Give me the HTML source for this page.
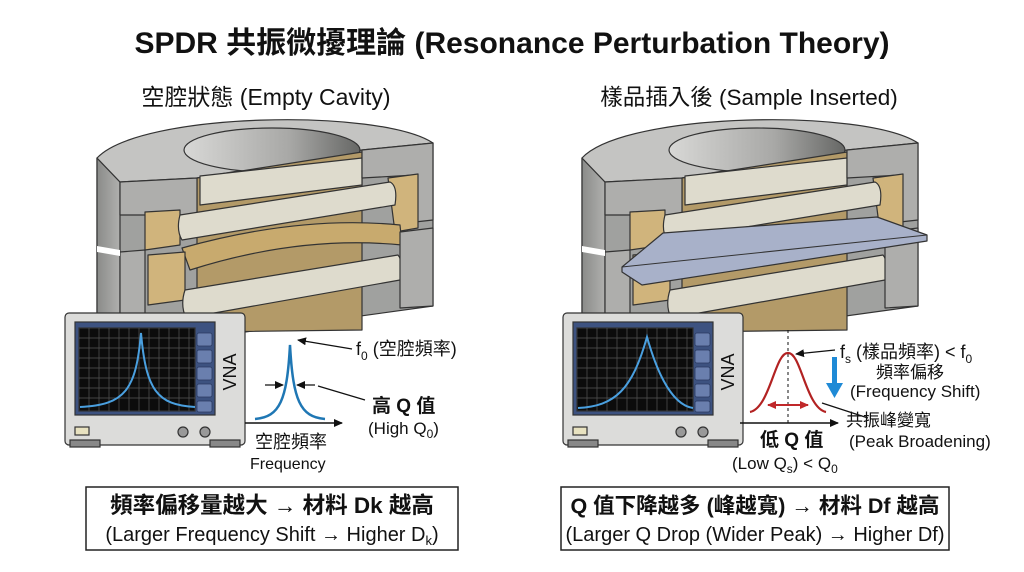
<!DOCTYPE html>
<html><head><meta charset="utf-8"><style>
html,body{margin:0;padding:0;background:#fff;}
svg{display:block;font-family:"Liberation Sans","Noto Sans CJK TC",sans-serif;}
</style></head><body>
<svg width="1024" height="572" viewBox="0 0 1024 572" xmlns="http://www.w3.org/2000/svg">
<defs>
<linearGradient id="hole" x1="0" x2="1"><stop offset="0" stop-color="#d8d8d6"/><stop offset="0.6" stop-color="#a8a8a6"/><stop offset="1" stop-color="#666765"/></linearGradient>
<linearGradient id="side" x1="0" x2="1"><stop offset="0" stop-color="#8a8b89"/><stop offset="1" stop-color="#b0b0ae"/></linearGradient>
<marker id="ah" markerWidth="10" markerHeight="10" refX="8" refY="5" orient="auto" markerUnits="userSpaceOnUse"><path d="M0,1 L9,5 L0,9 Z" fill="#111"/></marker>
<marker id="ahr" markerWidth="10" markerHeight="10" refX="8" refY="5" orient="auto" markerUnits="userSpaceOnUse"><path d="M0,1 L9,5 L0,9 Z" fill="#c0282a"/></marker>
<g id="cyl" stroke="#333" stroke-width="1.2" stroke-linejoin="round">
  <path d="M97,158 L97,330 L245,332 L433,306 L433,143 Z" fill="#a0a19f"/>
  <path d="M97,158 L97,330 L120,332 L120,182 Z" fill="url(#side)"/>
  <path d="M97,158 C140,112 380,108 433,143 L362,150 L197,178 L120,182 Z" fill="#c4c4c2"/>
  <ellipse cx="272" cy="150" rx="88" ry="22" fill="url(#hole)"/>
  <path d="M197,178 L362,152 L362,330 L197,332 Z" fill="#b39a68"/>
  <path d="M200,176 L362,158 L362,185 L200,205 Z" fill="#dedbcd"/>
  <path d="M120,182 L197,178 L197,215 L120,215 Z" fill="#aeaeac"/>
  <path d="M362,150 L433,143 L433,220 L415,222 L415,175 L362,178 Z" fill="#aeaeac"/>
  <path d="M145,212 L180,210 L180,245 L145,250 Z" fill="#d0b47c"/>
  <path d="M388,178 L418,174 L418,228 L395,232 Z" fill="#d0b47c"/>
  <path d="M180,215 L390,182 Q398,186 395,205 L182,240 Q176,230 180,215 Z" fill="#dedbcd"/>
  <path d="M182,248 Q300,215 400,225 L402,245 Q300,235 190,270 Z" fill="#c8aa6e"/>
  <path d="M120,252 L145,250 L145,330 L120,332 Z" fill="#aeaeac"/>
  <path d="M148,255 L185,252 L185,300 L148,305 Z" fill="#d0b47c"/>
  <path d="M185,290 L398,255 Q404,262 400,280 L186,318 Q180,305 185,290 Z" fill="#dedbcd"/>
  <path d="M400,232 L433,228 L433,306 L400,308 Z" fill="#aeaeac"/>
  <path d="M97,246 L120,250 L120,256 L97,252 Z" fill="#fff" stroke="none"/>
</g>
<g id="vna" stroke="#333" stroke-width="1.2">
  <rect x="65" y="313" width="180" height="132" rx="4" fill="#dcdcda"/>
  <rect x="70" y="440" width="30" height="7" fill="#888"/>
  <rect x="210" y="440" width="30" height="7" fill="#888"/>
  <rect x="75" y="322" width="140" height="93" fill="#3d5280"/>
  <rect x="79" y="328" width="116" height="83" fill="#0c0c0c"/>
  <g stroke="#555" stroke-width="0.7">
    <path d="M79,338H195M79,348H195M79,358H195M79,368H195M79,378H195M79,388H195M79,398H195M89,328V411M99,328V411M109,328V411M119,328V411M129,328V411M139,328V411M149,328V411M159,328V411M169,328V411M179,328V411M189,328V411"/>
  </g>
  <g fill="#6a7fae" stroke="#2a3a60" stroke-width="0.8">
    <rect x="197" y="333" width="15" height="13" rx="2"/><rect x="197" y="350" width="15" height="13" rx="2"/><rect x="197" y="367" width="15" height="13" rx="2"/><rect x="197" y="384" width="15" height="13" rx="2"/><rect x="197" y="401" width="15" height="11" rx="2"/>
  </g>
  <rect x="75" y="427" width="14" height="8" fill="#e8e2c0"/>
  <circle cx="183" cy="432" r="5" fill="#999"/><circle cx="205" cy="432" r="5" fill="#999"/>
</g>
</defs>

<text x="512" y="53" text-anchor="middle" font-size="30" font-weight="bold" fill="#111">SPDR 共振微擾理論 (Resonance Perturbation Theory)</text>
<text x="266" y="105" text-anchor="middle" font-size="23" fill="#111">空腔狀態 (Empty Cavity)</text>
<text x="749" y="105" text-anchor="middle" font-size="22.5" fill="#111">樣品插入後 (Sample Inserted)</text>

<!-- left -->
<use href="#cyl"/>
<use href="#vna"/>
<path d="M80,407 C125,405 136,390 141,333 C146,390 157,405 195,407" fill="none" stroke="#4aa0e0" stroke-width="2"/>
<text x="0" y="0" transform="translate(236,372) rotate(-90)" text-anchor="middle" font-size="18" fill="#111">VNA</text>
<path d="M255,419 C280,417 287,400 290,345 C293,400 300,417 325,419" fill="none" stroke="#1f77b4" stroke-width="2.5"/>
<line x1="245" y1="423" x2="342" y2="423" stroke="#111" stroke-width="1.5" marker-end="url(#ah)"/>
<line x1="265" y1="385" x2="283" y2="385" stroke="#111" stroke-width="1.3" marker-end="url(#ah)"/>
<line x1="315" y1="385" x2="297" y2="385" stroke="#111" stroke-width="1.3" marker-end="url(#ah)"/>
<line x1="318" y1="386" x2="365" y2="400" stroke="#111" stroke-width="1.2"/>
<line x1="352" y1="349" x2="298" y2="340" stroke="#111" stroke-width="1.3" marker-end="url(#ah)"/>
<text x="356" y="355" font-size="18" fill="#111">f<tspan font-size="12" dy="5">0</tspan><tspan dy="-5"> (空腔頻率)</tspan></text>
<text x="372" y="412" font-size="19" font-weight="bold" fill="#111">高 Q 值</text>
<text x="368" y="434" font-size="17" fill="#111">(High Q<tspan font-size="12" dy="4">0</tspan><tspan dy="-4">)</tspan></text>
<text x="255" y="448" font-size="18" fill="#111">空腔頻率</text>
<text x="250" y="469" font-size="16" fill="#111">Frequency</text>

<!-- right -->
<use href="#cyl" transform="translate(485,0)"/>
<path d="M622,267 L663,233 L877,217 L927,235 L927,241 L642,285 L622,272 Z" fill="#a8b1c9" stroke="#333" stroke-width="1.2" stroke-linejoin="round"/>
<path d="M622,267 L927,235" stroke="#333" stroke-width="1" fill="none"/>
<use href="#vna" transform="translate(498,0)"/>
<path d="M578,408 C615,406 632,390 647,337 C662,390 679,406 693,408" fill="none" stroke="#4aa0e0" stroke-width="2"/>
<text x="0" y="0" transform="translate(734,372) rotate(-90)" text-anchor="middle" font-size="18" fill="#111">VNA</text>
<line x1="788" y1="330" x2="788" y2="425" stroke="#111" stroke-width="1" stroke-dasharray="3,3"/>
<path d="M750,412 C770,408 775,352 788,353 C801,352 806,408 826,412" fill="none" stroke="#b22222" stroke-width="2.2"/>
<line x1="788" y1="405" x2="768" y2="405" stroke="#c0282a" stroke-width="2" marker-end="url(#ahr)"/>
<line x1="788" y1="405" x2="808" y2="405" stroke="#c0282a" stroke-width="2" marker-end="url(#ahr)"/>
<line x1="740" y1="423" x2="838" y2="423" stroke="#111" stroke-width="1.5" marker-end="url(#ah)"/>
<line x1="835" y1="350" x2="796" y2="354" stroke="#111" stroke-width="1.3" marker-end="url(#ah)"/>
<line x1="822" y1="403" x2="868" y2="418" stroke="#111" stroke-width="1.2"/>
<rect x="832" y="357" width="5" height="28" fill="#1f8ad6"/>
<path d="M826,383 L843,383 L834.5,398 Z" fill="#1f8ad6"/>
<text x="840" y="358" font-size="18" fill="#111">f<tspan font-size="12" dy="5">s</tspan><tspan dy="-5"> (樣品頻率) &lt; f</tspan><tspan font-size="12" dy="5">0</tspan></text>
<text x="876" y="378" font-size="17" fill="#111">頻率偏移</text>
<text x="850" y="397" font-size="17" fill="#111">(Frequency Shift)</text>
<text x="846" y="426" font-size="17" fill="#111">共振峰變寬</text>
<text x="849" y="447" font-size="17" fill="#111">(Peak Broadening)</text>
<text x="760" y="446" font-size="19" font-weight="bold" fill="#111">低 Q 值</text>
<text x="732" y="469" font-size="17" fill="#111">(Low Q<tspan font-size="12" dy="4">s</tspan><tspan dy="-4">) &lt; Q</tspan><tspan font-size="12" dy="4">0</tspan></text>

<!-- bottom boxes -->
<rect x="86" y="487" width="372" height="63" fill="#fff" stroke="#222" stroke-width="1.5"/>
<text x="272" y="513" text-anchor="middle" font-size="22.5" font-weight="bold" fill="#111">頻率偏移量越大 → 材料 Dk 越高</text>
<text x="272" y="541" text-anchor="middle" font-size="20" fill="#111">(Larger Frequency Shift → Higher D<tspan font-size="13" dy="4">k</tspan><tspan dy="-4">)</tspan></text>
<rect x="561" y="487" width="388" height="63" fill="#fff" stroke="#222" stroke-width="1.5"/>
<text x="755" y="513" text-anchor="middle" font-size="21.5" font-weight="bold" fill="#111">Q 值下降越多 (峰越寬) → 材料 Df 越高</text>
<text x="755" y="541" text-anchor="middle" font-size="20" fill="#111">(Larger Q Drop (Wider Peak) → Higher Df)</text>
</svg>
</body></html>
